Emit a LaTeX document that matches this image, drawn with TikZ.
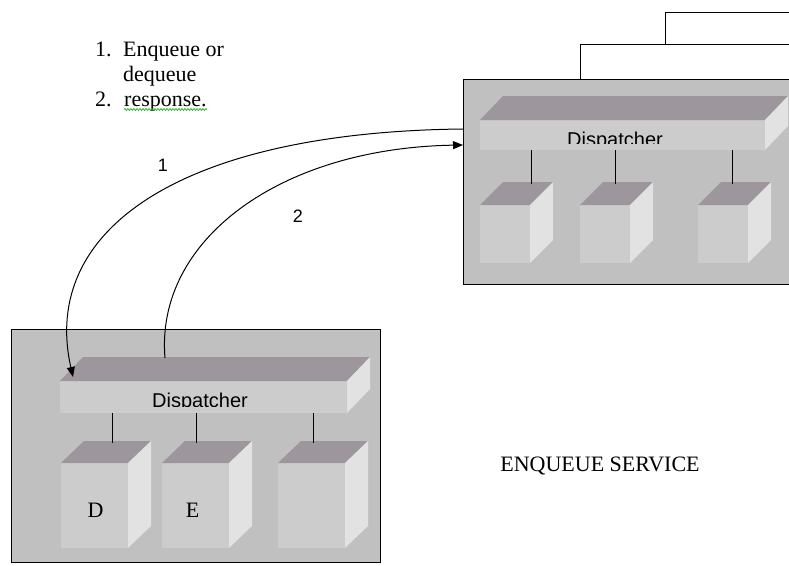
\documentclass[tikz,border=0pt]{standalone}
\usepackage{fontspec}
\setmainfont{Liberation Serif}
\newfontfamily\arialf{Liberation Sans}
\usetikzlibrary{arrows.meta,calc,decorations.pathmorphing}
\definecolor{boxgray}{RGB}{192,192,192}
\definecolor{facefront}{RGB}{204,204,204}
\definecolor{facetop}{RGB}{157,150,156}
\definecolor{faceside}{RGB}{226,226,226}
\definecolor{squig}{RGB}{40,170,40}
\tikzset{
  panel/.style={draw=black, line width=1pt, fill=boxgray, inner sep=0pt, outer sep=0pt, anchor=north west},
  facebox/.style={fill=facefront, inner sep=0pt, outer sep=0pt, anchor=north west},
  link/.style={line width=1pt, black},
  wire/.style={line width=1pt, black},
  flow/.style={line width=1pt, -{Triangle[length=10pt,width=8pt]}},
  serif/.style={font=\fontsize{22}{26}\selectfont, inner sep=0pt},
  sanstxt/.style={font=\arialf\fontsize{20}{23}\selectfont, inner sep=0pt},
  numtxt/.style={font=\arialf\fontsize{18}{21}\selectfont, inner sep=0pt},
}
\newcommand\blockfaces[3]{%
  \fill[facetop] (#1.north west) -- ++(#2,#3) -- ($(#1.north east)+(#2,#3)$) -- (#1.north east) -- cycle;
  \fill[faceside] (#1.north east) -- ++(#2,#3) -- ($(#1.south east)+(#2,#3)$) -- (#1.south east) -- cycle;
}
\newcommand\hang[4]{%
  \path (#2.north west) ++(#3,#4) coordinate (#2hook);
  \draw[link] (#2hook |- #1.south) -- (#2hook);
}
\begin{document}
\begin{tikzpicture}[x=1pt,y=-1pt]
\useasboundingbox (0,0) rectangle (789,565);
\clip (0,0) rectangle (789,565);
\fill[white] (0,0) rectangle (789,565);

% ---------- right panel ----------
\node[panel, minimum width=360, minimum height=205] (rp) at (463,79) {};
\coordinate (w1) at (580,79);
\coordinate (w1end) at (800,44);
\coordinate (w2) at (665,44);
\coordinate (w2end) at (800,12);
\draw[wire] (w1) |- (w1end);
\draw[wire] (w2) |- (w2end);

\node[facebox, minimum width=285, minimum height=30] (rbar) at (480,120) {};
\blockfaces{rbar}{23}{-24}
\begin{scope}
  \clip (rbar.north west) rectangle ($(rbar.south east)+(0,-6.5)$);
  \node[sanstxt, anchor=base] (rdisp) at (615,146.3) {Dispatcher};
\end{scope}

\node[facebox, minimum width=50, minimum height=58] (rc1) at (480,205) {};
\node[facebox, minimum width=50, minimum height=58] (rc2) at (580,205) {};
\node[facebox, minimum width=50, minimum height=58] (rc3) at (698,205) {};
\blockfaces{rc1}{23}{-23}
\blockfaces{rc2}{23}{-23}
\blockfaces{rc3}{23}{-23}
\hang{rbar}{rc1}{51}{-21}
\hang{rbar}{rc2}{35}{-21}
\hang{rbar}{rc3}{34}{-21}

% ---------- left panel ----------
\node[panel, minimum width=369, minimum height=233] (lp) at (11,329) {};
\node[facebox, minimum width=287, minimum height=32] (lbar) at (60,381) {};
\blockfaces{lbar}{23}{-24}
\begin{scope}
  \clip (lbar.north west) rectangle ($(lbar.south east)+(0,-6.5)$);
  \node[sanstxt, anchor=base] (ldisp) at (200,407.3) {Dispatcher};
\end{scope}

\node[facebox, minimum width=67, minimum height=85] (lc1) at (61,463) {};
\node[facebox, minimum width=67, minimum height=85] (lc2) at (162,463) {};
\node[facebox, minimum width=67, minimum height=85] (lc3) at (278,463) {};
\blockfaces{lc1}{23}{-22}
\blockfaces{lc2}{23}{-22}
\blockfaces{lc3}{23}{-22}
\hang{lbar}{lc1}{51}{-20}
\hang{lbar}{lc2}{34}{-20}
\hang{lbar}{lc3}{35}{-20}
\node[serif] (dlab) at ($(lc1.center)+(1,4.5)$) {D};
\node[serif] (elab) at ($(lc2.center)+(-3,4.5)$) {E};

% ---------- message arrows ----------
\coordinate (a1s) at ($(rp.north west)+(0,50)$);
\coordinate (a1e) at ($(lbar.north west)+(13,-4)$);
\coordinate (a2s) at ($(lbar.north west)+(105,-23)$);
\coordinate (a2e) at ($(rp.north west)+(0,66)$);
\draw[flow] (a1s) .. controls (180,132) and (40,230) .. (a1e);
\draw[flow] (a2s) .. controls (155,240) and (280,148) .. (a2e);
\node[numtxt] (n1) at (163,165) {1};
\node[numtxt] (n2) at (298,216) {2};

% ---------- legend ----------
\node[serif, anchor=base west] (l1) at (95,56) {1.};
\node[serif, anchor=base west] (l1t) at (123,56) {Enqueue or};
\node[serif, anchor=base west] (l1u) at (123,81) {dequeue};
\node[serif, anchor=base west] (l2) at (95,106) {2.};
\node[serif, anchor=base west] (resp) at (124,106) {response.};
\draw[squig, line width=0.7pt, decorate, decoration={snake, amplitude=1pt, segment length=3pt}]
  ($(resp.base west)+(0,3.5)$) -- ($(resp.base east)+(0,3.5)$);

\node[serif] (svc) at (600,466) {ENQUEUE SERVICE};
\end{tikzpicture}
\end{document}
